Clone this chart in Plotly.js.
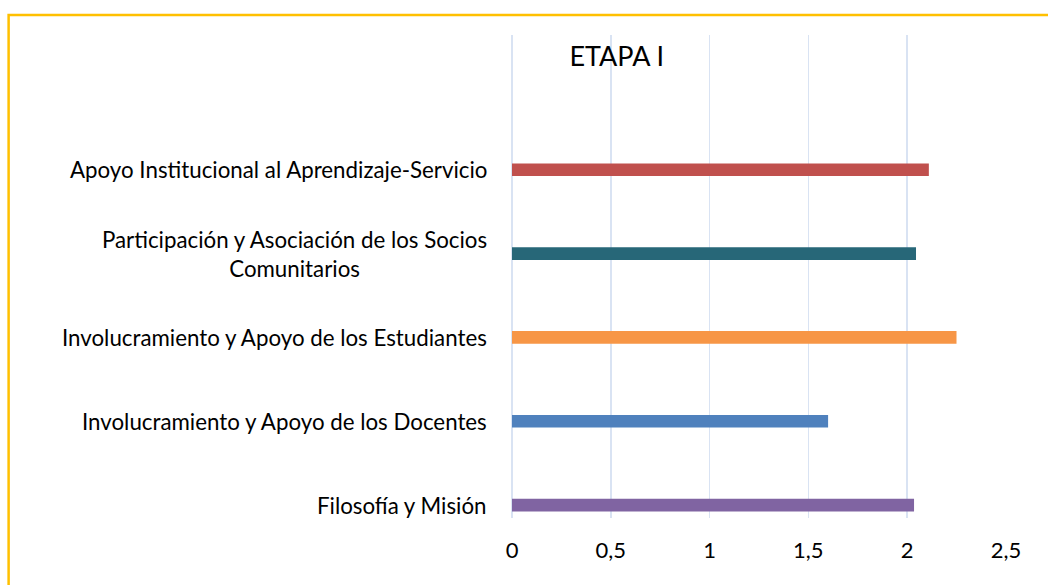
<!DOCTYPE html>
<html>
<head>
<meta charset="utf-8">
<script src="https://cdn.plot.ly/plotly-3.0.1.min.js"></script>
<style>
html,body{margin:0;padding:0;background:#fff;overflow:hidden;}
#chart{width:1048px;height:585px;}
</style>
</head>
<body>
<div id="chart"></div>
<script>
// Data (bottom to top)
const categories = [
  "Filosofía y Misión",
  "Involucramiento y Apoyo de los Docentes",
  "Involucramiento y Apoyo de los Estudiantes",
  "Participación y Asociación de los Socios<br>Comunitarios",
  "Apoyo Institucional al Aprendizaje-Servicio"
];
const values = [2.035, 1.6, 2.25, 2.045, 2.11];
const barColors = ["#8064A2", "#4F81BD", "#F79646", "#276778", "#C0504D"];
const xTicks = [0, 0.5, 1, 1.5, 2, 2.5];
const chartTitle = "ETAPA I";

const FONT = "Lato, 'Open Sans', sans-serif";

const trace = {
  type: "bar",
  orientation: "h",
  x: values,
  y: categories,
  width: 0.151,
  marker: { color: barColors },
  hoverinfo: "x+y",
  showlegend: false
};

const annotations = categories.map(c => ({
  xref: "paper", yref: "y",
  x: -0.0472, y: c,
  xanchor: "right", yanchor: "middle",
  align: "center",
  text: c,
  showarrow: false,
  font: { family: FONT, size: 22.3, color: "#000" }
}));

const layout = {
  width: 1048, height: 585,
  margin: { l: 512.3, r: 42.3, t: 35, b: 67 },
  paper_bgcolor: "#fff", plot_bgcolor: "#fff",
  separators: ",.",
  font: { family: FONT, color: "#000" },
  title: {
    text: chartTitle,
    xref: "paper", x: 0.212, xanchor: "center",
    yref: "container", y: 0.903, yanchor: "middle",
    font: { family: FONT, size: 27, color: "#000" }
  },
  xaxis: {
    range: [0, 2.5005],
    tickvals: xTicks,
    showgrid: true, gridcolor: "#D9E3F3", gridwidth: 1.5,
    zeroline: true, zerolinecolor: "#D9E3F3", zerolinewidth: 1.5,
    showline: false, ticks: "",
    tickfont: { family: FONT, size: 22, color: "#000" },
    ticklabelstandoff: 17
  },
  yaxis: {
    type: "category",
    categoryorder: "array", categoryarray: categories,
    range: [-0.154, 5.607],
    showgrid: false, zeroline: false, showline: false,
    showticklabels: false, ticks: ""
  },
  annotations: annotations,
  shapes: [{
    type: "rect", xref: "paper", yref: "paper",
    x0: -1.019, x1: 1.3, y0: -0.5, y1: 1.0414,
    line: { color: "#FFC000", width: 2.5 },
    fillcolor: "rgba(0,0,0,0)", layer: "below"
  }]
};

Plotly.newPlot("chart", [trace], layout, { staticPlot: true, displayModeBar: false });
</script>
</body>
</html>
